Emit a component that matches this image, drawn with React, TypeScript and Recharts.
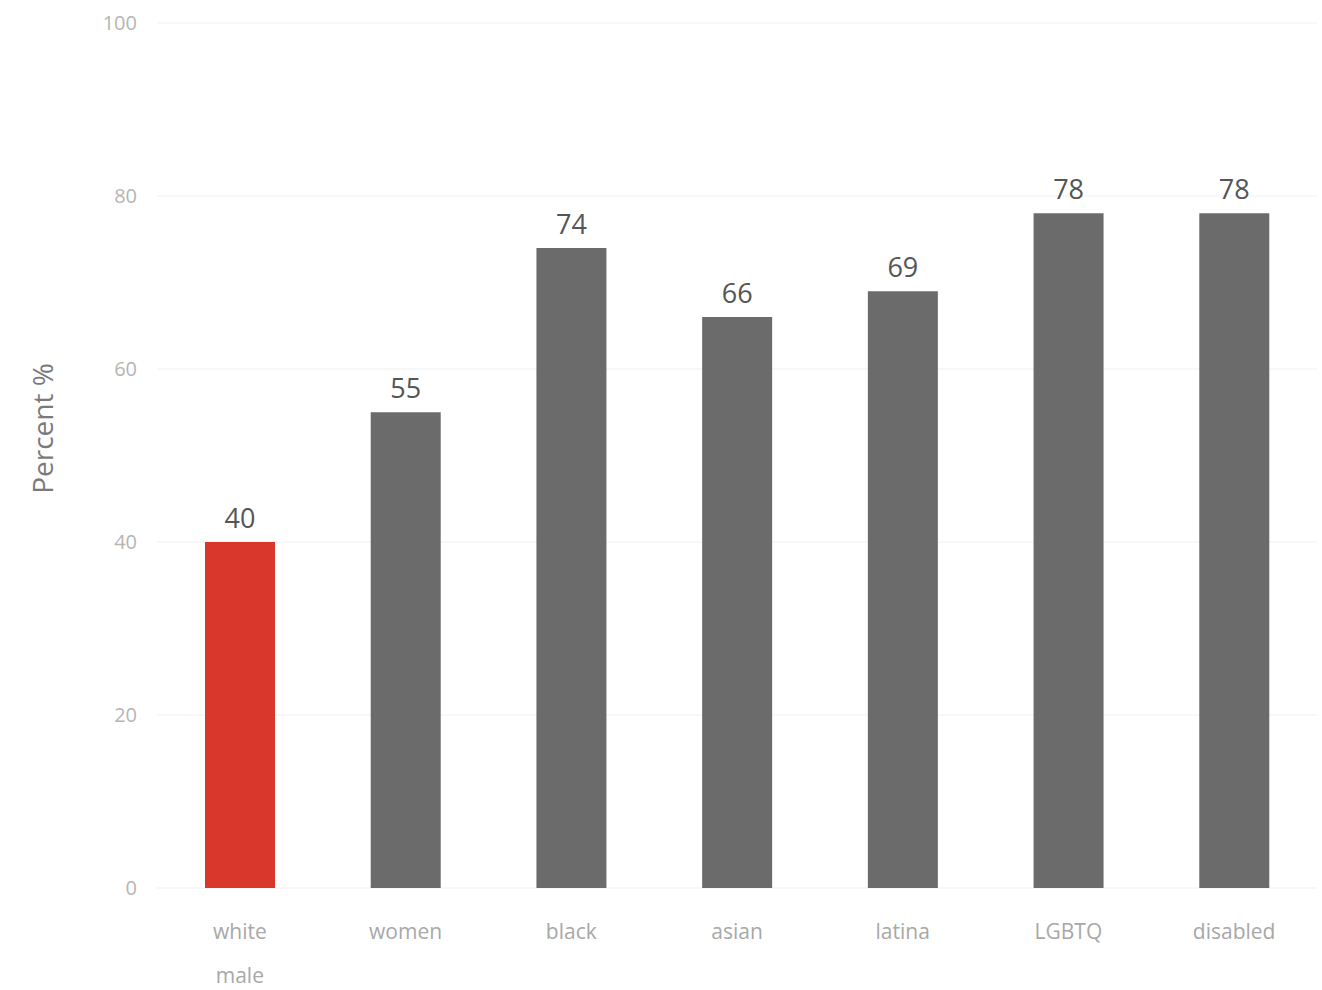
import { BarChart, Bar, XAxis, YAxis, CartesianGrid, Cell, LabelList, Text } from 'recharts';

const categories = ['white male', 'women', 'black', 'asian', 'latina', 'LGBTQ', 'disabled'];
const percents = [40, 55, 74, 66, 69, 78, 78];
const yTicks = [0, 20, 40, 60, 80, 100];

const RED = '#d9362c';
const GRAY = '#6b6b6b';

const chartData = categories.map((name, i) => ({ name, value: percents[i] }));

function CategoryTick({ x, y, payload }: { x?: number; y?: number; payload?: { value: string } }) {
  return (
    <Text
      x={x}
      y={(y ?? 0) + 28}
      width={60}
      textAnchor="middle"
      verticalAnchor="start"
      lineHeight={44}
      style={{ fontSize: 21, fill: '#a8a8a8' }}
    >
      {payload?.value ?? ''}
    </Text>
  );
}

function AxisTitle({ viewBox }: { viewBox?: { x: number; y: number; width: number; height: number } }) {
  if (!viewBox) return null;
  const cx = viewBox.x + 22;
  const cy = viewBox.y + viewBox.height / 2 - 27;
  return (
    <text
      x={cx}
      y={cy}
      transform={`rotate(-90, ${cx}, ${cy})`}
      textAnchor="middle"
      dominantBaseline="central"
      style={{ fontSize: 28, fill: '#7a7a7a' }}
    >
      Percent %
    </text>
  );
}

export default function App() {
  return (
    <div style={{ position: 'absolute', left: 0, top: 0, width: 1322, height: 990, background: '#fff' }}>
      <BarChart
        width={1322}
        height={990}
        data={chartData}
        margin={{ top: 23, right: 5, bottom: 72, left: 20 }}
        style={{ fontFamily: '"Open Sans", sans-serif' }}
      >
        <CartesianGrid vertical={false} stroke="#f1f1f1" />
        <XAxis
          dataKey="name"
          axisLine={false}
          tickLine={false}
          interval={0}
          tick={<CategoryTick />}
        />
        <YAxis
          width={137}
          domain={[0, 100]}
          ticks={yTicks}
          axisLine={false}
          tickLine={false}
          tickSize={0}
          tickMargin={20}
          tick={{ fontSize: 20, fill: '#b5b5b5' }}
          label={{ content: <AxisTitle /> }}
        />
        <Bar dataKey="value" barSize={70} isAnimationActive={false}>
          {chartData.map((d, i) => (
            <Cell key={d.name} fill={i === 0 ? RED : GRAY} />
          ))}
          <LabelList dataKey="value" position="top" offset={14} style={{ fontSize: 27, fill: '#555' }} />
        </Bar>
      </BarChart>
    </div>
  );
}
